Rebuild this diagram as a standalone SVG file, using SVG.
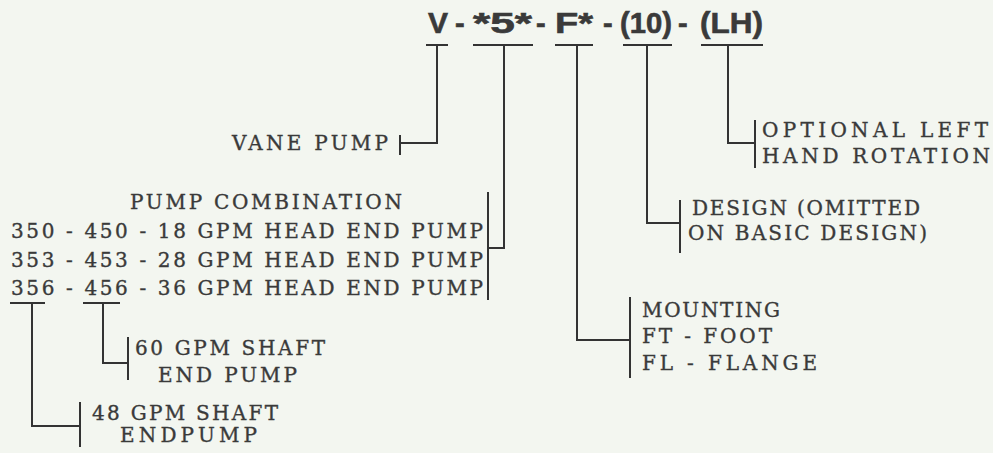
<svg xmlns="http://www.w3.org/2000/svg" width="993" height="453" viewBox="0 0 993 453">
<style>
.bg{fill:#f3f6f0}
.hd{font-family:"Liberation Sans",Arial,sans-serif;font-weight:bold;font-size:29px;fill:#3a3a3a;stroke:#3a3a3a;stroke-width:0.6}
.t{font-family:"DejaVu Serif","Liberation Serif",serif;font-size:20px;fill:#3a3a3a;stroke:#3a3a3a;stroke-width:0.35}
.c{stroke:#333;stroke-width:2;fill:none}
</style>
<rect class="bg" x="0" y="0" width="993" height="453"/>
<g id="code">
<text class="hd" x="428" y="33" textLength="20" lengthAdjust="spacingAndGlyphs">V</text>
<text class="hd" x="455" y="33">-</text>
<text class="hd" x="473" y="33" textLength="59" lengthAdjust="spacingAndGlyphs">*5*</text>
<text class="hd" x="536" y="33">-</text>
<text class="hd" x="555" y="33" textLength="38" lengthAdjust="spacingAndGlyphs">F*</text>
<text class="hd" x="603" y="33">-</text>
<text class="hd" x="620" y="33" textLength="52" lengthAdjust="spacingAndGlyphs">(10)</text>
<text class="hd" x="678" y="33">-</text>
<text class="hd" x="700" y="33" textLength="63" lengthAdjust="spacingAndGlyphs">(LH)</text>
</g>
<g id="vane-pump">
<text class="t" x="232" y="150" textLength="156" lengthAdjust="spacing">VANE PUMP</text>
</g>
<g id="pump-combination">
<text class="t" x="130" y="209" textLength="272" lengthAdjust="spacing">PUMP COMBINATION</text>
<text class="t" x="11" y="238" textLength="472" lengthAdjust="spacing">350 - 450 - 18 GPM HEAD END PUMP</text>
<text class="t" x="11" y="267" textLength="472" lengthAdjust="spacing">353 - 453 - 28 GPM HEAD END PUMP</text>
<text class="t" x="11" y="295" textLength="472" lengthAdjust="spacing">356 - 456 - 36 GPM HEAD END PUMP</text>
</g>
<g id="shaft-60">
<text class="t" x="135" y="355" textLength="190" lengthAdjust="spacing">60 GPM SHAFT</text>
<text class="t" x="158" y="382" textLength="139" lengthAdjust="spacing">END PUMP</text>
</g>
<g id="shaft-48">
<text class="t" x="92" y="420" textLength="186" lengthAdjust="spacing">48 GPM SHAFT</text>
<text class="t" x="120" y="442" textLength="137" lengthAdjust="spacing">ENDPUMP</text>
</g>
<g id="left-hand">
<text class="t" x="762" y="137" textLength="226" lengthAdjust="spacing">OPTIONAL LEFT</text>
<text class="t" x="762" y="163" textLength="228" lengthAdjust="spacing">HAND ROTATION</text>
</g>
<g id="design">
<text class="t" x="692" y="215" textLength="228" lengthAdjust="spacing">DESIGN (OMITTED</text>
<text class="t" x="688" y="240" textLength="239" lengthAdjust="spacing">ON BASIC DESIGN)</text>
</g>
<g id="mounting">
<text class="t" x="642" y="317" textLength="138" lengthAdjust="spacing">MOUNTING</text>
<text class="t" x="642" y="343" textLength="130" lengthAdjust="spacing">FT - FOOT</text>
<text class="t" x="642" y="370" textLength="175" lengthAdjust="spacing">FL - FLANGE</text>
</g>
<g id="connectors" class="c">
<path d="M426 45H448M437 45V143H400M400 135V155"/>
<path d="M473 45H533M504 45V248H488M488 192V300"/>
<path d="M555 45H593M577 45V340H630M630 297V378"/>
<path d="M623 45H672M647 45V223H680M680 200V253"/>
<path d="M701 45H763M728 45V143H755M755 120V168"/>
<path d="M10 303H45M32 303V426H80M80 402V447"/>
<path d="M83 303H120M103 303V363H128M128 337V380"/>
</g>
</svg>
